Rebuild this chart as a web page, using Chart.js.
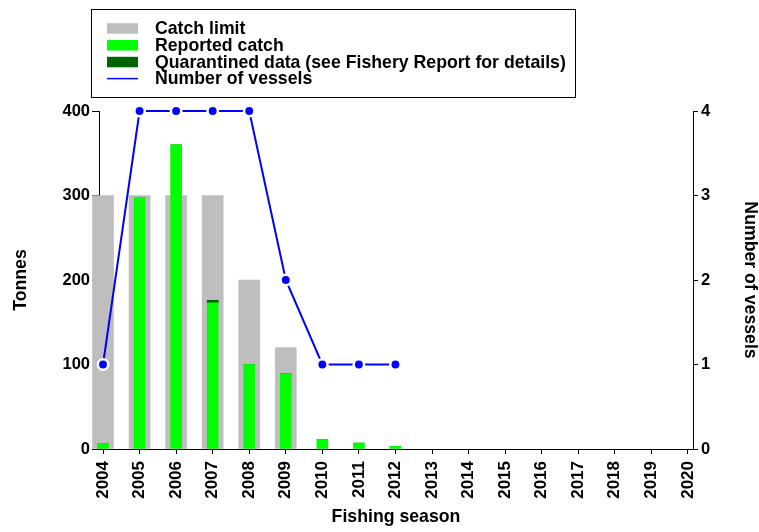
<!DOCTYPE html>
<html>
<head>
<meta charset="utf-8">
<script src="https://cdn.jsdelivr.net/npm/chart.js@4"></script>
<style>
    html, body { margin: 0; padding: 0; background: #fff; }
    #chart { display: block; }
</style>
</head>
<body>
<canvas id="chart" width="759" height="532"></canvas>
<script>
// Catch and effort by fishing season

const seasons = [2004, 2005, 2006, 2007, 2008, 2009, 2010, 2011, 2012];
const catchLimit = [300, 300, 300, 300, 200, 120, null, null, null];
const reportedCatch = [6, 297, 360, 173, 100, 89, 11, 7, 3];
const quarantined = [0, 0, 0, 3, 0, 0, 0, 0, 0];
const vessels = [1, 4, 4, 4, 4, 2, 1, 1, 1];
const tickYears = [2004, 2005, 2006, 2007, 2008, 2009, 2010, 2011, 2012,
    2013, 2014, 2015, 2016, 2017, 2018, 2019, 2020];
const tonnesTicks = [0, 100, 200, 300, 400];
const vesselTicks = [0, 1, 2, 3, 4];

const FONT = "'Liberation Sans', Arial, sans-serif";
const toPoints = vals => seasons.map((s, i) => ({ x: s, y: vals[i] })).filter(p => p.y !== null);

// legend drawn in a framed box above the plot
const boxLegend = {
    id: 'boxLegend',
    afterDraw(chart) {
        const ctx = chart.ctx;
        ctx.save();
        ctx.strokeStyle = '#000';
        ctx.lineWidth = 1;
        ctx.strokeRect(91.5, 9.5, 484, 88);
        ctx.font = 'bold 17.7px ' + FONT;
        ctx.fillStyle = '#000';
        ctx.textBaseline = 'alphabetic';
        chart.data.datasets.forEach((ds, i) => {
            const base = 34 + i * 16.8;
            const mid = base - 5.8;
            if (ds.type === 'line') {
                ctx.strokeStyle = ds.borderColor;
                ctx.lineWidth = 1.5;
                ctx.beginPath();
                ctx.moveTo(107, mid);
                ctx.lineTo(138, mid);
                ctx.stroke();
            } else {
                ctx.fillStyle = ds.backgroundColor;
                ctx.fillRect(107, mid - 5, 31, 10.5);
            }
            ctx.fillStyle = '#000';
            ctx.fillText(ds.label, 155, base);
        });
        ctx.restore();
    }
};

new Chart(document.getElementById('chart'), {
    data: {
        datasets: [{
            type: 'bar',
            label: 'Catch limit',
            data: toPoints(catchLimit),
            backgroundColor: '#bebebe',
            barThickness: 21,
            grouped: false,
            stack: 'limit',
            order: 4,
            clip: false
        }, {
            type: 'bar',
            label: 'Reported catch',
            data: toPoints(reportedCatch),
            backgroundColor: '#00ff00',
            barThickness: 11,
            grouped: false,
            stack: 'catch',
            order: 2,
            clip: false
        }, {
            type: 'bar',
            label: 'Quarantined data (see Fishery Report for details)',
            data: toPoints(quarantined),
            backgroundColor: '#006400',
            barThickness: 11,
            grouped: false,
            stack: 'catch',
            order: 3,
            clip: false
        }, {
            type: 'line',
            label: 'Number of vessels',
            data: toPoints(vessels),
            yAxisID: 'y1',
            borderColor: '#0000ff',
            borderWidth: 2,
            pointRadius: 5.2,
            pointBorderWidth: 2.5,
            pointBackgroundColor: '#0000ff',
            pointBorderColor: '#ffffff',
            tension: 0,
            order: 1,
            clip: false
        }]
    },
    options: {
        responsive: false,
        animation: false,
        devicePixelRatio: 1,
        layout: { padding: { top: 111, left: 0, right: 0, bottom: 0 } },
        plugins: {
            legend: { display: false },
            tooltip: { enabled: false }
        },
        scales: {
            x: {
                type: 'linear',
                offset: false,
                min: 2003.89,
                max: 2020.14,
                afterBuildTicks: s => { s.ticks = tickYears.map(v => ({ value: v })); },
                afterFit: s => { s.height = 83; },
                ticks: {
                    autoSkip: false,
                    minRotation: 90,
                    maxRotation: 90,
                    padding: 7,
                    color: '#000',
                    font: { family: FONT, size: 17, weight: 'bold' },
                    callback: v => String(v)
                },
                grid: { offset: false, drawOnChartArea: false, tickLength: 5, color: '#000' },
                border: { color: '#000', width: 1 },
                title: {
                    display: true,
                    text: 'Fishing season',
                    color: '#000',
                    font: { family: FONT, size: 17.7, weight: 'bold' },
                    padding: { top: 0, bottom: 4 }
                }
            },
            y: {
                position: 'left',
                stacked: true,
                min: 0,
                max: 400,
                z: 1,
                afterBuildTicks: s => { s.ticks = tonnesTicks.map(v => ({ value: v })); },
                afterFit: s => { s.width = 99; },
                ticks: {
                    padding: 2,
                    color: '#000',
                    font: { family: FONT, size: 16.5, weight: 'bold' }
                },
                grid: { drawOnChartArea: false, tickLength: 7, color: '#000' },
                border: { color: '#000', width: 1 },
                title: {
                    display: true,
                    text: 'Tonnes',
                    color: '#000',
                    font: { family: FONT, size: 17.7, weight: 'bold' },
                    padding: { top: 10, bottom: 0 }
                }
            },
            y1: {
                position: 'right',
                min: 0,
                max: 4,
                afterBuildTicks: s => { s.ticks = vesselTicks.map(v => ({ value: v })); },
                afterFit: s => { s.width = 66; },
                ticks: {
                    padding: 3,
                    color: '#000',
                    font: { family: FONT, size: 16.5, weight: 'bold' }
                },
                grid: { drawOnChartArea: false, tickLength: 5, color: '#000' },
                border: { color: '#000', width: 1 },
                title: {
                    display: true,
                    text: 'Number of vessels',
                    color: '#000',
                    font: { family: FONT, size: 17.7, weight: 'bold', lineHeight: 1 },
                    padding: { top: 0, bottom: 0 }
                }
            }
        }
    },
    plugins: [boxLegend]
});
</script>
</body>
</html>
